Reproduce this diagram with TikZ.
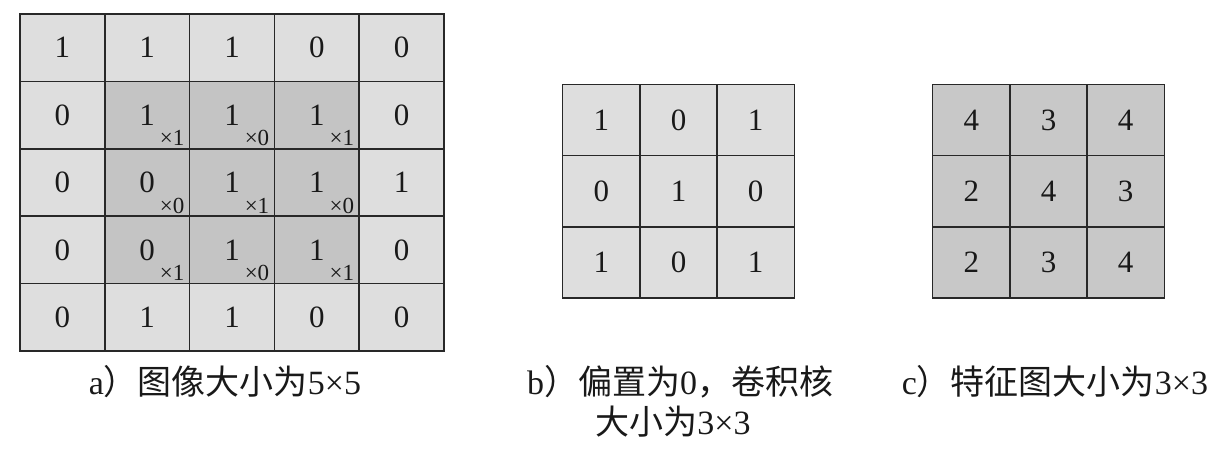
\documentclass[tikz,border=0pt]{standalone}
\usepackage{fontspec}
\setmainfont{Liberation Serif}
\newfontfamily\cjk{Noto Sans CJK SC}
\definecolor{light}{RGB}{222,222,222}
\definecolor{dark}{RGB}{196,196,196}
\definecolor{feat}{RGB}{200,200,200}
\definecolor{edge}{RGB}{40,40,40}
\tikzset{
  cellbox/.style={draw=edge, line width=1.5pt, inner sep=0pt, outer sep=0pt,
     font=\fontsize{31}{31}\selectfont, text=black!90, anchor=north west},
  subtxt/.style={font=\fontsize{23}{23}\selectfont, text=black!90, inner sep=0pt},
  captxt/.style={font=\fontsize{34}{40}\selectfont, text=black!90, inner sep=0pt, align=center}
}
\begin{document}
\begin{tikzpicture}[x=1pt,y=-1pt]
\useasboundingbox (0,0) rectangle (1222,449);
% ---------- (a) 5x5 image ----------
\def\ax{20}\def\ay{14}\def\acw{84.8}\def\ach{67.4}
\foreach \row/\vals in {0/{1,1,1,0,0},1/{0,1,1,1,0},2/{0,0,1,1,1},3/{0,0,1,1,0},4/{0,1,1,0,0}}{
  \foreach \v [count=\c from 0] in \vals {
    \pgfmathsetmacro{\isdark}{(\row>0 && \row<4 && \c>0 && \c<4) ? 1 : 0}
    \ifnum\isdark=1 \def\fc{dark}\else\def\fc{light}\fi
    \node[cellbox, fill=\fc, minimum width=\acw pt, minimum height=\ach pt]
      (a-\row-\c) at ({\ax+\c*\acw},{\ay+\row*\ach}) {\v};
  }
}
\foreach \r/\c/\k in {1/1/1,1/2/0,1/3/1,2/1/0,2/2/1,2/3/0,3/1/1,3/2/0,3/3/1}{
  \node[subtxt] (s-\r-\c) at ([xshift=25pt,yshift=-23pt]a-\r-\c.center) {×\k};
}
% ---------- (b) kernel ----------
\def\bx{562.7}\def\by{84.3}\def\bcw{77.2}\def\bch{71.3}
\foreach \row/\vals in {0/{1,0,1},1/{0,1,0},2/{1,0,1}}{
  \foreach \v [count=\c from 0] in \vals {
    \node[cellbox, fill=light, minimum width=\bcw pt, minimum height=\bch pt]
      (b-\row-\c) at ({\bx+\c*\bcw},{\by+\row*\bch}) {\v};
  }
}
% ---------- (c) feature map ----------
\def\cx{932.7}
\foreach \row/\vals in {0/{4,3,4},1/{2,4,3},2/{2,3,4}}{
  \foreach \v [count=\c from 0] in \vals {
    \node[cellbox, fill=feat, minimum width=\bcw pt, minimum height=\bch pt]
      (c-\row-\c) at ({\cx+\c*\bcw},{\by+\row*\bch}) {\v};
  }
}
% ---------- captions ----------
\node[captxt] (capa) at (225,382) {a{\cjk ）图像大小为}5×5};
\node[captxt] (capb) at (680,382) {b{\cjk ）偏置为}0{\cjk ，卷积核}};
\node[captxt] (capb2) at (673,422) {{\cjk 大小为}3×3};
\node[captxt] (capc) at (1055,382) {c{\cjk ）特征图大小为}3×3};
\end{tikzpicture}
\end{document}
